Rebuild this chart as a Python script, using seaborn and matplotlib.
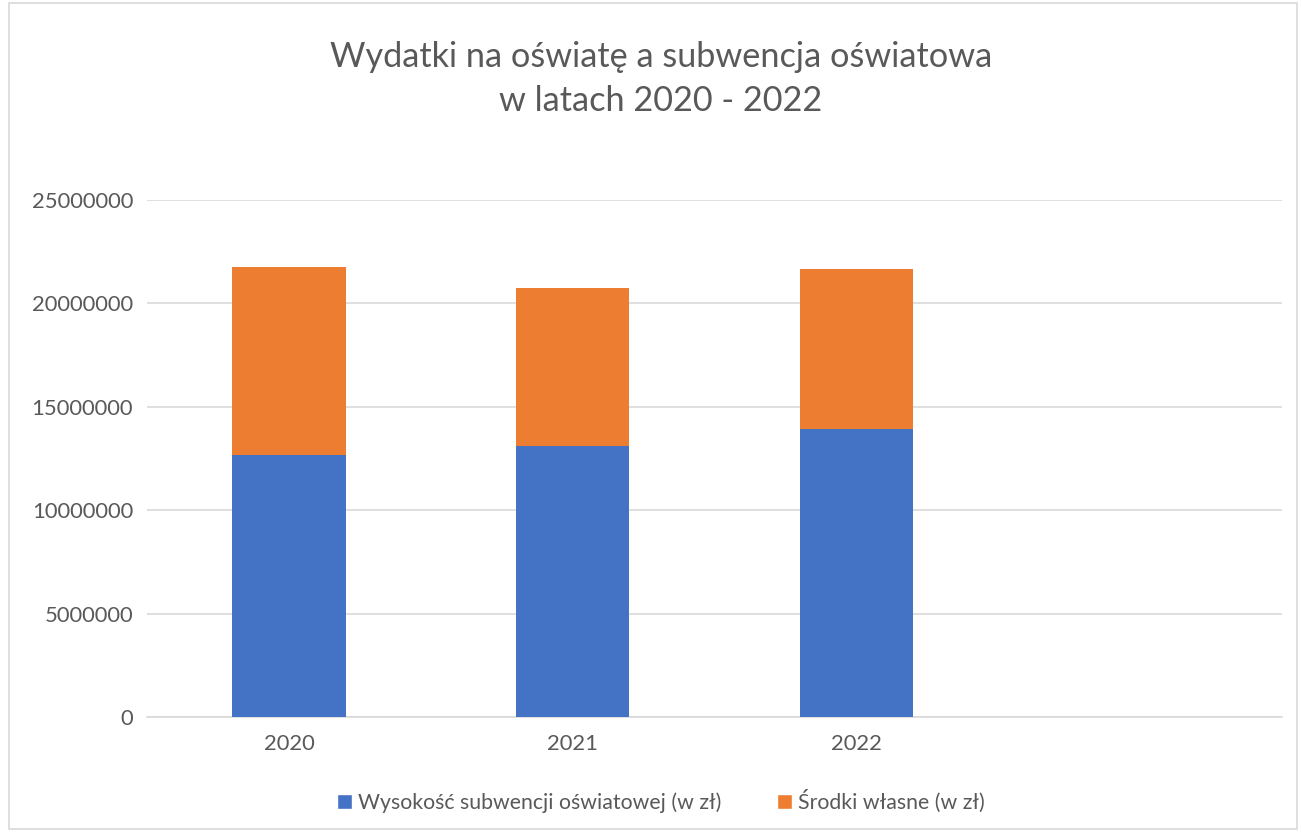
import pandas as pd
import matplotlib.pyplot as plt
import seaborn as sns
from matplotlib.patches import Rectangle, Patch

# --- dane ---
lata = ['2020', '2021', '2022']
subwencja = [12670000, 13120000, 13910000]
srodki_wlasne = [9080000, 7620000, 7770000]
y_ticks = [0, 5000000, 10000000, 15000000, 20000000, 25000000]

df = pd.DataFrame({'Rok': lata, 'Subwencja': subwencja, 'Wlasne': srodki_wlasne})
df['Razem'] = df['Subwencja'] + df['Wlasne']

BLUE = '#4472C4'
ORANGE = '#ED7D31'
TEXT = '#595959'
GRID = '#D9D9D9'

sns.set_theme(style="white")
plt.rcParams['font.family'] = ['Lato', 'DejaVu Sans']

fig = plt.figure(figsize=(13.01, 8.32), dpi=100)
ax = fig.add_axes([0.113, 0.1382, 0.8724, 0.6214])

# stos: najpierw suma (pomaranczowy), potem subwencja (niebieski) na wierzchu
sns.barplot(data=df, x='Rok', y='Razem', color=ORANGE, width=0.4, saturation=1, ax=ax, zorder=2,
            linewidth=0)
sns.barplot(data=df, x='Rok', y='Subwencja', color=BLUE, width=0.4, saturation=1, ax=ax, zorder=3,
            linewidth=0)

ax.set_xlim(-0.5, 3.5)
ax.set_ylim(0, 25000000)
ax.set_yticks(y_ticks)
ax.set_yticklabels([str(v) for v in y_ticks])
ax.set_xlabel('')
ax.set_ylabel('')
ax.yaxis.grid(True, color=GRID, linewidth=1.2, zorder=0)
ax.set_axisbelow(True)
for s in ['top', 'right', 'left']:
    ax.spines[s].set_visible(False)
ax.spines['bottom'].set_color(GRID)
ax.spines['bottom'].set_linewidth(1.2)
ax.tick_params(axis='both', length=0, labelsize=15.8, colors=TEXT)
ax.tick_params(axis='y', pad=10)
ax.tick_params(axis='x', pad=12)

fig.text(0.508, 0.932, 'Wydatki na oświatę a subwencja oświatowa', ha='center', va='center',
         fontsize=24.7, color=TEXT)
fig.text(0.508, 0.879, 'w latach 2020 - 2022', ha='center', va='center',
         fontsize=24.7, color=TEXT)

handles = [Patch(facecolor=BLUE, label='Wysokość subwencji oświatowej (w zł)'),
           Patch(facecolor=ORANGE, label='Środki własne (w zł)')]
fig.legend(handles=handles, loc='center', bbox_to_anchor=(0.508, 0.037), ncol=2, frameon=False,
           fontsize=15.3, labelcolor=TEXT, handlelength=0.7, handleheight=0.7, handletextpad=0.3,
           columnspacing=2.6)

fig.patches.append(Rectangle((9 / 1301, 3 / 832), 1288 / 1301, 826 / 832, transform=fig.transFigure,
                             fill=False, edgecolor=GRID, linewidth=1.2))

fig.savefig('out.png', dpi=100)
plt.close(fig)
